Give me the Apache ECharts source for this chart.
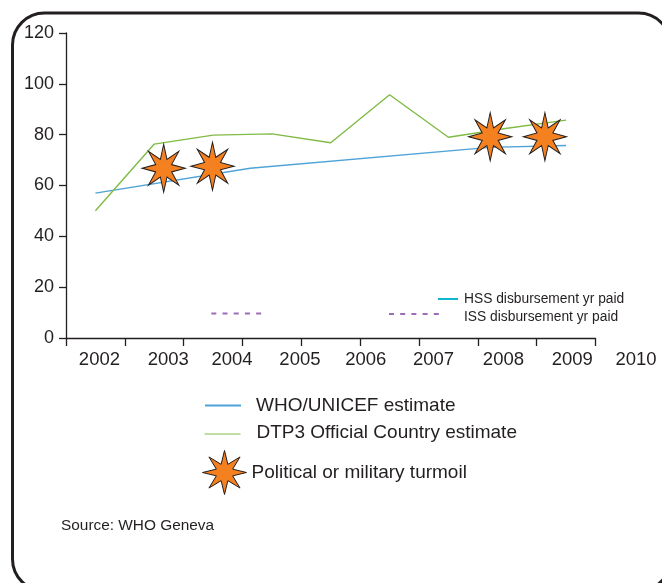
<!DOCTYPE html>
<html>
<head>
<meta charset="utf-8">
<style>html,body{margin:0;padding:0;background:#fff}#chart{width:662px;height:583px}</style>
<script src="https://cdn.jsdelivr.net/npm/echarts@6/dist/echarts.min.js"></script>
</head>
<body>
<div id="chart"></div>
<script>
// DTP3 coverage, by year of report
const categories = ['2002', '2003', '2004', '2005', '2006', '2007', '2008', '2009', '2010'];
const countryEstimate = [50.1, 76.3, 79.8, 80.3, 76.8, 95.7, 79, 82.5, 85.7];
// WHO/UNICEF estimate, [position on the year scale, percent]
const whoEstimate = [[2002.5, 57], [2005.13, 66.8], [2009.2, 75], [2010.5, 75.7]];
const issPaid = [[2004.47, 9.6], [2005.37, 9.6]];
const hssPaid = [];
const turmoil = [[2003.66, 66.8], [2004.49, 67.6], [2009.21, 79.2], [2010.14, 79.2]];
const yTicks = [0, 120, 20];

// Horizontal nudges that spread the year labels past the end of the axis
const labelNudge = [4, 14, 19, 28, 35, 44, 55, 65, 70];

const INK = '#231f20';
const FONT = '"Liberation Sans", Arial, sans-serif';
const BLUE = '#4fa3d8', GREEN = '#80bb45', CYAN = '#12b5cf', PURPLE = '#9b6cb7', ORANGE = '#f58020';

// Eight-pointed star outline
function starPath() {
  const pts = [];
  for (let i = 0; i < 16; i++) {
    const r = i % 2 ? 0.4 : 1;
    const a = i * Math.PI / 8;
    pts.push((r * Math.sin(a)).toFixed(4) + ' ' + (-r * Math.cos(a)).toFixed(4));
  }
  return 'path://M' + pts.join('L') + 'Z';
}
const STAR = starPath();

// One legend entry: line sample, then its text; shiftTop/shiftBottom move the text off the line
function lineLegend(name, left, top, width, size, gap, shiftTop, shiftBottom, extra) {
  return Object.assign({
    data: [name], left, top, orient: 'horizontal', padding: 0,
    selectedMode: false, itemWidth: width, itemHeight: 10,
    itemStyle: { opacity: 0 },
    formatter: '{t|{name}}',
    textStyle: {
      padding: [0, 0, 0, gap],
      rich: { t: { color: INK, fontFamily: FONT, fontSize: size, padding: [shiftTop, 0, shiftBottom, 0] } }
    }
  }, extra || {});
}

const chart = echarts.init(document.getElementById('chart'), null, { renderer: 'canvas' });
chart.setOption({
  animation: false,
  backgroundColor: '#fff',
  grid: { left: 66, top: 33, width: 529.5, height: 305, containLabel: false },
  title: {
    text: 'Source: WHO Geneva', left: 61, top: 518, padding: 0,
    textStyle: { color: INK, fontFamily: FONT, fontSize: 15.4, fontWeight: 'normal' }
  },
  graphic: [{
    type: 'rect', silent: true, z: -1,
    shape: { x: 12.5, y: 13, width: 658, height: 578, r: 32 },
    style: { fill: 'none', stroke: INK, lineWidth: 3 }
  }],
  legend: [
    lineLegend('HSS disbursement yr paid', 437, 292, 20, 13.8, 1, 0, 0),
    lineLegend('ISS disbursement yr paid', 388, 310, 53, 13.8, 17, 6, 0),
    lineLegend('WHO/UNICEF estimate', 204, 396, 36, 19, 10, 0, 0),
    lineLegend('DTP3 Official Country estimate', 204, 423, 36, 19, 11, 0, 3, { lineStyle: { width: 1 } }),
    {
      data: [{ name: 'Political or military turmoil', icon: STAR }],
      left: 202, top: 450, padding: 0, selectedMode: false,
      itemWidth: 44, itemHeight: 49,
      itemStyle: { borderWidth: 1 },
      textStyle: { color: INK, fontFamily: FONT, fontSize: 19, padding: [0, 0, 0, 0] }
    }
  ],
  xAxis: [{
    type: 'category',
    boundaryGap: true,
    data: categories.map((year, i) => ({
      value: year,
      textStyle: { padding: [0, 0, 0, labelNudge[i] * 2] }
    })),
    axisLine: { lineStyle: { color: INK, width: 1.3 } },
    axisTick: { show: true, length: 8, alignWithLabel: false, lineStyle: { color: INK, width: 1.3 } },
    axisLabel: { interval: 0, margin: 12, color: INK, fontFamily: FONT, fontSize: 18.5, showMaxLabel: true }
  }, {
    type: 'value', show: false, min: 2002, max: 2011
  }],
  yAxis: {
    type: 'value', min: yTicks[0], max: yTicks[1], interval: yTicks[2],
    splitLine: { show: false },
    axisLine: { show: true, lineStyle: { color: INK, width: 1.3 } },
    axisTick: { show: true, length: 7, lineStyle: { color: INK, width: 1.3 } },
    axisLabel: { margin: 12, color: INK, fontFamily: FONT, fontSize: 18 }
  },
  series: [
    { name: 'WHO/UNICEF estimate', type: 'line', xAxisIndex: 1, data: whoEstimate, symbol: 'none',
      lineStyle: { color: BLUE, width: 1.5 }, itemStyle: { color: BLUE }, z: 2 },
    { name: 'DTP3 Official Country estimate', type: 'line', xAxisIndex: 0, data: countryEstimate, symbol: 'none',
      lineStyle: { color: GREEN, width: 1.4 }, itemStyle: { color: GREEN }, z: 2 },
    { name: 'HSS disbursement yr paid', type: 'line', xAxisIndex: 1, data: hssPaid, symbol: 'none',
      lineStyle: { color: CYAN, width: 2 }, itemStyle: { color: CYAN } },
    { name: 'ISS disbursement yr paid', type: 'line', xAxisIndex: 1, data: issPaid, symbol: 'none',
      lineStyle: { color: PURPLE, width: 2, type: [5, 6.2] }, itemStyle: { color: PURPLE } },
    { name: 'Political or military turmoil', type: 'scatter', xAxisIndex: 1, data: turmoil,
      symbol: STAR, symbolSize: [43, 48], clip: false, silent: true,
      itemStyle: { color: ORANGE, borderColor: INK, borderWidth: 1, opacity: 1 }, z: 5 }
  ]
});
</script>
</body>
</html>
